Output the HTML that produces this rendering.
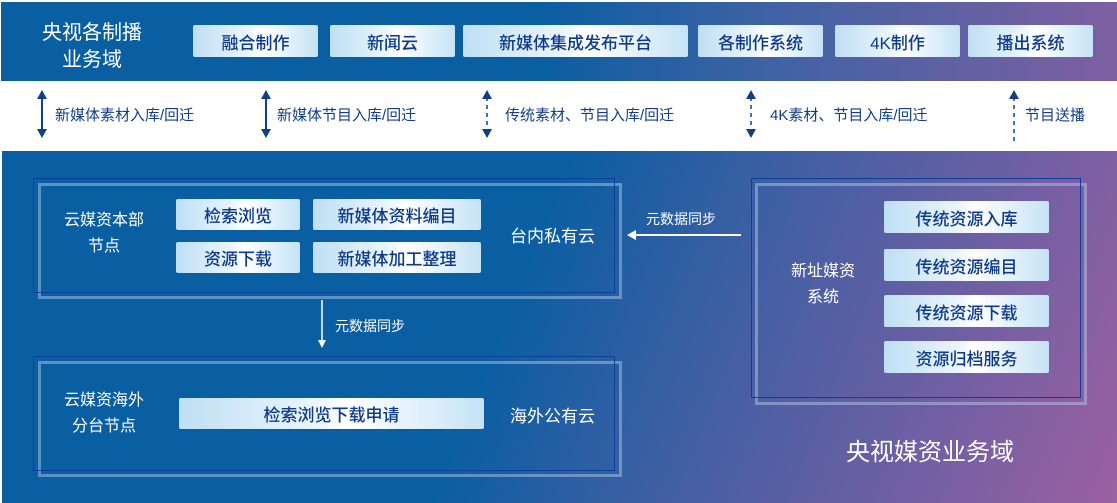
<!DOCTYPE html>
<html><head><meta charset="utf-8"><style>
*{margin:0;padding:0;box-sizing:border-box}
body{width:1117px;height:503px;background:#fff;position:relative;overflow:hidden;font-family:"Liberation Sans","Noto Sans CJK SC",sans-serif}
.a{position:absolute}
.top{left:1px;top:2px;width:1116px;height:79px;background:linear-gradient(90deg,#0a5ea2 0%,#0a5ea2 48%,#3d62a4 68%,#7d60a2 100%)}
.bot{left:2px;top:151px;width:1115px;height:352px;background:linear-gradient(112deg,#0a5ea2 0%,#0a5ea2 45%,#3d5fa3 62%,#6a5fa3 80%,#9b60a2 100%)}
.b{position:absolute;display:flex;align-items:center;justify-content:center;color:#0d3a8c;font-size:17px;font-weight:500;border-radius:2px;background:linear-gradient(90deg,#bfdff4 0%,#eaf5fc 45%,#fff 55%,#c5e3f6 100%)}
.w{position:absolute;color:#fff;text-align:center}
.t{position:absolute;color:#123d8a;font-size:15px;white-space:nowrap}
.dk{position:absolute;border:1.5px solid #0c3f9a}
.lt{position:absolute;border:3px solid rgba(190,210,235,.45)}
</style></head><body>
<div class="a top"></div>
<div class="w" style="left:22px;top:20px;width:140px;font-size:20px;line-height:27px">央视各制播<br>业务域</div>
<div class="b" style="left:193px;top:25px;width:125px;height:32px">融合制作</div>
<div class="b" style="left:330px;top:25px;width:125px;height:32px">新闻云</div>
<div class="b" style="left:463px;top:25px;width:225px;height:32px">新媒体集成发布平台</div>
<div class="b" style="left:698px;top:25px;width:125px;height:32px">各制作系统</div>
<div class="b" style="left:835px;top:25px;width:125px;height:32px">4K制作</div>
<div class="b" style="left:968px;top:25px;width:125px;height:32px">播出系统</div>

<svg class="a" style="left:0;top:81px" width="1117" height="70">
<g fill="#123d8a" stroke="#123d8a" stroke-width="2">
<line x1="42" y1="16" x2="42" y2="50"/><path d="M37,18 L42,9 L47,18Z M37,48 L42,57 L47,48Z" stroke="none"/>
<line x1="266" y1="16" x2="266" y2="50"/><path d="M261,18 L266,9 L271,18Z M261,48 L266,57 L271,48Z" stroke="none"/>
<line x1="487" y1="16" x2="487" y2="50" stroke-dasharray="4,4" stroke-width="1.5"/><path d="M482,18 L487,9 L492,18Z M482,48 L487,57 L492,48Z" stroke="none"/>
<line x1="751" y1="16" x2="751" y2="50" stroke-dasharray="4,4" stroke-width="1.5"/><path d="M746,18 L751,9 L756,18Z M746,48 L751,57 L756,48Z" stroke="none"/>
<line x1="1014" y1="16" x2="1014" y2="62" stroke-dasharray="4,4" stroke-width="1.5"/><path d="M1009,18 L1014,9 L1019,18Z" stroke="none"/>
</g></svg>
<div class="t" style="left:55px;top:104px">新媒体素材入库/回迁</div>
<div class="t" style="left:277px;top:104px">新媒体节目入库/回迁</div>
<div class="t" style="left:505px;top:104px">传统素材、节目入库/回迁</div>
<div class="t" style="left:770px;top:104px">4K素材、节目入库/回迁</div>
<div class="t" style="left:1025px;top:104px">节目送播</div>

<div class="a bot"></div>
<div class="lt" style="left:38px;top:183px;width:584px;height:116px"></div>
<div class="dk" style="left:33px;top:178px;width:582px;height:115px"></div>
<div class="w" style="left:45px;top:208px;width:118px;font-size:16px;line-height:26px">云媒资本部<br>节点</div>
<div class="b" style="left:176px;top:199px;width:124px;height:31px">检索浏览</div>
<div class="b" style="left:313px;top:199px;width:168px;height:31px">新媒体资料编目</div>
<div class="b" style="left:176px;top:242px;width:124px;height:31px">资源下载</div>
<div class="b" style="left:313px;top:242px;width:168px;height:31px">新媒体加工整理</div>
<div class="w" style="left:500px;top:222px;width:105px;font-size:17px">台内私有云</div>

<svg class="a" style="left:0;top:0" width="1117" height="503">
<line x1="322" y1="300" x2="322" y2="342" stroke="#fff" stroke-width="1.5"/>
<path d="M318,340 L322,348 L326,340Z" fill="#fff"/>
<line x1="634" y1="235" x2="741" y2="235" stroke="#fff" stroke-width="2"/>
<path d="M636,230 L627,235 L636,240Z" fill="#fff"/>
</svg>
<div class="w" style="left:335px;top:316px;font-size:14px">元数据同步</div>
<div class="w" style="left:646px;top:209px;font-size:14px">元数据同步</div>

<div class="lt" style="left:38px;top:361px;width:584px;height:116px"></div>
<div class="dk" style="left:33px;top:356px;width:582px;height:115px"></div>
<div class="w" style="left:45px;top:388px;width:118px;font-size:16px;line-height:26px">云媒资海外<br>分台节点</div>
<div class="b" style="left:179px;top:398px;width:305px;height:31px">检索浏览下载申请</div>
<div class="w" style="left:500px;top:402px;width:105px;font-size:17px">海外公有云</div>

<div class="lt" style="left:755px;top:183px;width:332px;height:222px"></div>
<div class="dk" style="left:751px;top:178px;width:330px;height:220px"></div>
<div class="w" style="left:770px;top:259px;width:106px;font-size:16px;line-height:26px">新址媒资<br>系统</div>
<div class="b" style="left:884px;top:201px;width:165px;height:32px">传统资源入库</div>
<div class="b" style="left:884px;top:249px;width:165px;height:32px">传统资源编目</div>
<div class="b" style="left:884px;top:295px;width:165px;height:32px">传统资源下载</div>
<div class="b" style="left:884px;top:341px;width:165px;height:32px">资源归档服务</div>
<div class="w" style="left:830px;top:432px;width:200px;font-size:24px">央视媒资业务域</div>
</body></html>
